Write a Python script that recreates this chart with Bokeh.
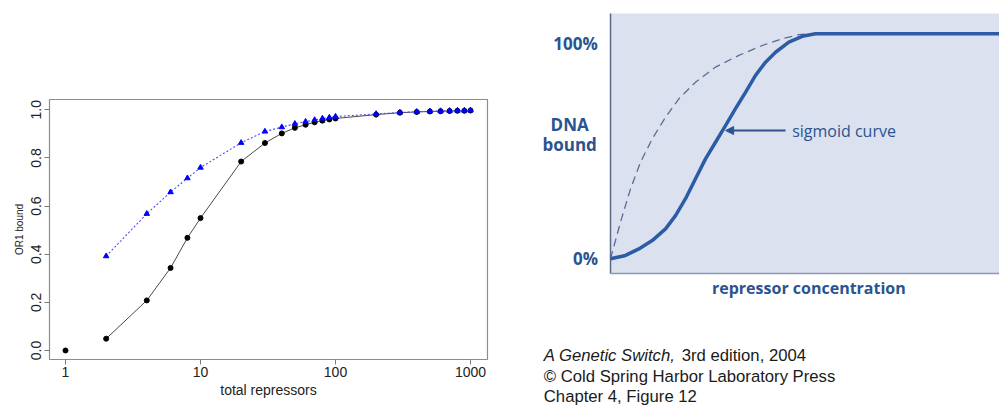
from bokeh.plotting import figure
from bokeh.layouts import row
from bokeh.models import (FixedTicker, NumeralTickFormatter, Range1d, BoxAnnotation,
                          Label, Arrow, NormalHead)
from bokeh.embed import file_html
from bokeh.resources import INLINE

# ---------------- left panel data ----------------
x_black = [1, 2, 4, 6, 8, 10, 20, 30, 40, 50, 60, 70, 80, 90, 100,
           200, 300, 400, 500, 600, 700, 800, 900, 1000]
y_black = [0.0, 0.049, 0.208, 0.343, 0.468, 0.55, 0.785, 0.862, 0.902, 0.925,
           0.938, 0.948, 0.955, 0.96, 0.964, 0.98, 0.988, 0.991, 0.993, 0.994,
           0.995, 0.996, 0.996, 0.997]
x_blue = [2, 4, 6, 8, 10, 20, 30, 40, 50, 60, 70, 80, 90, 100,
          200, 300, 400, 500, 600, 700, 800, 900, 1000]
y_blue = [0.392, 0.568, 0.658, 0.716, 0.76, 0.863, 0.91, 0.928, 0.942, 0.951,
          0.958, 0.964, 0.968, 0.972, 0.983, 0.989, 0.992, 0.994, 0.995, 0.996,
          0.997, 0.997, 0.998]
x_ticks = [1, 10, 100, 1000]
y_ticks = [0.0, 0.2, 0.4, 0.6, 0.8, 1.0]

# ---------------- right panel data (schematic) ----------------
sig_conc = [0, 3.86, 7.28, 10.72, 14.14, 16.71, 19.28, 21.85, 24.42, 26.99, 29.56,
            32.13, 34.70, 37.28, 39.85, 42.42, 45.84, 49.28, 52.70, 100]
sig_bound = [0, 1.5, 4.4, 8.1, 13.3, 19.2, 26.7, 35.6, 44.4, 51.8, 59.2,
             66.7, 74.0, 81.5, 87.4, 91.8, 96.3, 98.9, 100, 100]
hyp_conc = [0, 2.57, 5.14, 7.71, 10.72, 14.14, 17.56, 21.85, 26.99, 32.98, 38.99,
            44.13, 48.41, 50.98]
hyp_bound = [0, 16.3, 31.1, 42.9, 53.3, 62.9, 71.1, 78.5, 85.2, 90.4, 94.8,
             97.8, 99.6, 100]

FONT = "Liberation Sans"

# ---------------- left figure ----------------
p1 = figure(width=530, height=405, x_axis_type="log",
            x_range=Range1d(0.761, 1336), y_range=Range1d(-0.0374, 1.0428),
            output_backend="svg", toolbar_location=None, frame_align=False,
            min_border_left=49, min_border_right=43, min_border_top=99, min_border_bottom=46)
p1.grid.visible = False
p1.outline_line_color = "#8c8c8c"
p1.outline_line_width = 1.2
p1.background_fill_color = "white"
p1.border_fill_color = "white"

p1.line(x_black[1:], y_black[1:], line_color="#4a4a4a", line_width=1)
p1.scatter(x_black, y_black, marker="circle", size=5, fill_color="black", line_color="black")
p1.line(x_blue, y_blue, line_color="#4d4dff", line_width=1.1, line_dash="2 2")
p1.scatter(x_blue, y_blue, marker="triangle", size=5.5, fill_color="blue", line_color="blue")

for ax in (p1.xaxis[0], p1.yaxis[0]):
    ax.axis_line_color = None
    ax.major_tick_line_color = "#7a7a7a"
    ax.major_tick_in = 0
    ax.major_tick_out = 5
    ax.minor_tick_line_color = None
    ax.major_label_text_font = FONT
    ax.major_label_text_font_size = "14px"
    ax.major_label_text_color = "#222222"
    ax.axis_label_text_font = FONT
    ax.axis_label_text_font_style = "normal"
    ax.axis_label_text_color = "#222222"

p1.xaxis.ticker = FixedTicker(ticks=x_ticks)
p1.xaxis.formatter = NumeralTickFormatter(format="0")
p1.xaxis.axis_label = "total repressors"
p1.xaxis.axis_label_text_font_size = "14px"
p1.xaxis.major_label_standoff = 2
p1.xaxis.axis_label_standoff = 2

p1.yaxis.ticker = FixedTicker(ticks=y_ticks)
p1.yaxis.formatter = NumeralTickFormatter(format="0.0")
p1.yaxis.major_label_orientation = "parallel"
p1.yaxis.axis_label = "OR1 bound"
p1.yaxis.axis_label_text_font_size = "10px"
p1.yaxis.major_label_standoff = 3
p1.yaxis.axis_label_standoff = 4

# ---------------- right figure ----------------
BLUE = "#2d5ca6"
TXT = "#2b538f"
p2 = figure(width=469, height=405, x_range=Range1d(-20.57, 100.0), y_range=Range1d(-65.2, 114.8),
            output_backend="svg", toolbar_location=None, frame_align=False,
            min_border_left=0, min_border_right=0, min_border_top=0, min_border_bottom=0)
p2.axis.visible = False
p2.grid.visible = False
p2.outline_line_color = None
p2.background_fill_color = "white"
p2.border_fill_color = "white"

p2.add_layout(BoxAnnotation(left=0, bottom=-6.53, top=109.0, fill_color="#dce1f0",
                            fill_alpha=1, line_color=None, level="underlay"))
p2.segment(x0=[0], y0=[-6.53], x1=[0], y1=[109.0], line_color="#5d6787", line_width=1.5)
p2.segment(x0=[0], y0=[-6.53], x1=[110], y1=[-6.53], line_color="#8d96b3", line_width=1.5)

p2.line(hyp_conc, hyp_bound, line_color="#5c6c93", line_width=1.3, line_dash="8 5")
p2.line(sig_conc, sig_bound, line_color=BLUE, line_width=3.5, line_join="round")

p2.add_layout(Arrow(end=NormalHead(size=8, fill_color=TXT, line_color=TXT),
                    x_start=45.0, y_start=57.0, x_end=29.6, y_end=57.0,
                    line_color=TXT, line_width=2))

def lab(x, y, text, size, align="center", bold=True, color=TXT, font="Open Sans", italic=False):
    style = "bold" if bold else ("italic" if italic else "normal")
    p2.add_layout(Label(x=x, y=y, text=text, text_font=font, text_font_size=size,
                        text_font_style=style, text_color=color, text_align=align,
                        text_baseline="middle"))

lab(-9.0, 95.8, "100%", "17px")
lab(-10.5, 59.8, "DNA", "17px")
lab(-10.5, 50.6, "bound", "17px")
lab(-6.4, 0.0, "0%", "17px")
lab(51.0, -12.9, "repressor concentration", "16px")
lab(46.7, 57.0, "sigmoid curve", "16px", align="left", bold=False)

lab(-17.15, -43.0, "A Genetic Switch,", "16.7px", align="left", bold=False, italic=True,
    color="#1a1a1a", font=FONT)
lab(18.3, -43.0, "3rd edition, 2004", "16.7px", align="left", bold=False,
    color="#1a1a1a", font=FONT)
lab(-17.15, -52.3, "\u00a9 Cold Spring Harbor Laboratory Press", "16.7px", align="left",
    bold=False, color="#1a1a1a", font=FONT)
lab(-17.15, -61.2, "Chapter 4, Figure 12", "16.7px", align="left", bold=False,
    color="#1a1a1a", font=FONT)

layout = row(p1, p2)
open("out.html", "w").write(file_html(layout, INLINE))
